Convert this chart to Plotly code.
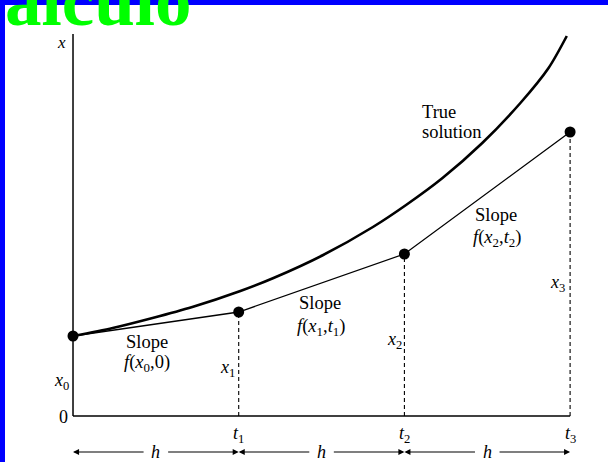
import plotly.graph_objects as go

# ---- data ----
step_t = [0, 1, 2, 3]                       # t0..t3
euler_x = [0.80, 1.04, 1.62, 2.84]           # x0..x3 (Euler estimates)
true_t = [0, 0.24, 0.48, 0.72, 1.01, 1.21, 1.51, 1.81, 2.01, 2.23, 2.47, 2.70, 2.87, 2.98]
true_x = [0.80, 0.88, 0.98, 1.09, 1.25, 1.38, 1.61, 1.89, 2.11, 2.38, 2.73, 3.13, 3.48, 3.80]
t_labels = ["<i>t</i><sub>1</sub>", "<i>t</i><sub>2</sub>", "<i>t</i><sub>3</sub>"]
x_labels = ["<i>x</i><sub>1</sub>", "<i>x</i><sub>2</sub>", "<i>x</i><sub>3</sub>"]
slope_labels = ["<i>f</i>(<i>x</i><sub>0</sub>,0)",
                "<i>f</i>(<i>x</i><sub>1</sub>,<i>t</i><sub>1</sub>)",
                "<i>f</i>(<i>x</i><sub>2</sub>,<i>t</i><sub>2</sub>)"]

SERIF = "Liberation Serif"
fig = go.Figure()

# true solution
fig.add_trace(go.Scatter(x=true_t, y=true_x, mode="lines",
                         line=dict(color="black", width=2.6, shape="spline", smoothing=0.8),
                         hoverinfo="skip", showlegend=False))
# Euler polyline
fig.add_trace(go.Scatter(x=step_t, y=euler_x, mode="lines+markers",
                         line=dict(color="black", width=1.3),
                         marker=dict(color="black", size=11),
                         hoverinfo="skip", showlegend=False))
# dashed verticals
for t, v in zip(step_t[1:], euler_x[1:]):
    fig.add_trace(go.Scatter(x=[t, t], y=[0, v], mode="lines",
                             line=dict(color="black", width=1.1, dash="4px,3px"),
                             hoverinfo="skip", showlegend=False))

shapes = [
    # axes
    dict(type="line", x0=0, x1=0, y0=0, y1=3.82, xref="x", yref="y",
         line=dict(color="black", width=1.5)),
    dict(type="line", x0=0, x1=step_t[-1], y0=0, y1=0, xref="x", yref="y",
         line=dict(color="black", width=1.5)),
    # blue border
    dict(type="rect", x0=0, x1=1, y0=1 - 5 / 462, y1=1, xref="paper", yref="paper",
         fillcolor="#0000ff", line=dict(width=0), layer="above"),
    dict(type="rect", x0=0, x1=5 / 608, y0=0, y1=1, xref="paper", yref="paper",
         fillcolor="#0000ff", line=dict(width=0), layer="above"),
]

ann = []
def lab(text, x, y, size=18, xanchor="center", yanchor="middle"):
    ann.append(dict(text=text, x=x, y=y, xref="x", yref="y", showarrow=False,
                    xanchor=xanchor, yanchor=yanchor,
                    font=dict(family=SERIF, size=size, color="black")))

lab("<i>x</i>", -0.072, 3.74, 17)
lab("0", -0.06, -0.01, 18)
lab("<i>x</i><sub>0</sub>", -0.07, 0.35, 18)
x_lab_pos = [(0.935, 0.48), (1.943, 0.76), (2.921, 1.33)]
for s, (xx, yy) in zip(x_labels, x_lab_pos):
    lab(s, xx, yy, 18)
for s, t in zip(t_labels, step_t[1:]):
    lab(s, t, -0.18, 18)
slope_pos = [(0.308, 0.74, 0.53), (1.352, 1.13, 0.89), (2.414, 2.01, 1.78)]
for s, (xx, y1, y2) in zip(slope_labels, slope_pos):
    lab("Slope", xx, y1, 18.5, xanchor="left")
    lab(s, xx - 0.01, y2, 18.5, xanchor="left")
lab("True", 2.094, 3.04, 18.5, xanchor="left")
lab("solution", 2.094, 2.84, 18.5, xanchor="left")

# h arrows
ya = -0.36
for a, b in zip(step_t[:-1], step_t[1:]):
    c = (a + b) / 2
    lab("<i>h</i>", c, ya, 18)
    for end, tail in ((a, c - 0.065), (b, c + 0.065)):
        ann.append(dict(x=end, y=ya, ax=tail, ay=ya, xref="x", yref="y",
                        axref="x", ayref="y", text="", showarrow=True,
                        arrowhead=2, arrowsize=1.1, arrowwidth=1.1, arrowcolor="black"))

# green header text
ann.append(dict(text="<b>alculo</b>", x=3 / 608, y=1 - 1 / 462, xref="paper", yref="paper",
                xanchor="left", yanchor="middle", showarrow=False,
                font=dict(family=SERIF, size=73, color="#00ff00")))

fig.update_layout(
    width=608, height=462,
    margin=dict(l=0, r=0, t=0, b=0),
    paper_bgcolor="white", plot_bgcolor="white",
    xaxis=dict(range=[-0.4406, 3.2287], visible=False, fixedrange=True),
    yaxis=dict(range=[-0.46, 4.16], visible=False, fixedrange=True),
    shapes=shapes, annotations=ann,
)
fig.write_html("out.html", config={"displayModeBar": False},
               post_script="document.body.style.margin='0';document.body.style.overflow='hidden';")
